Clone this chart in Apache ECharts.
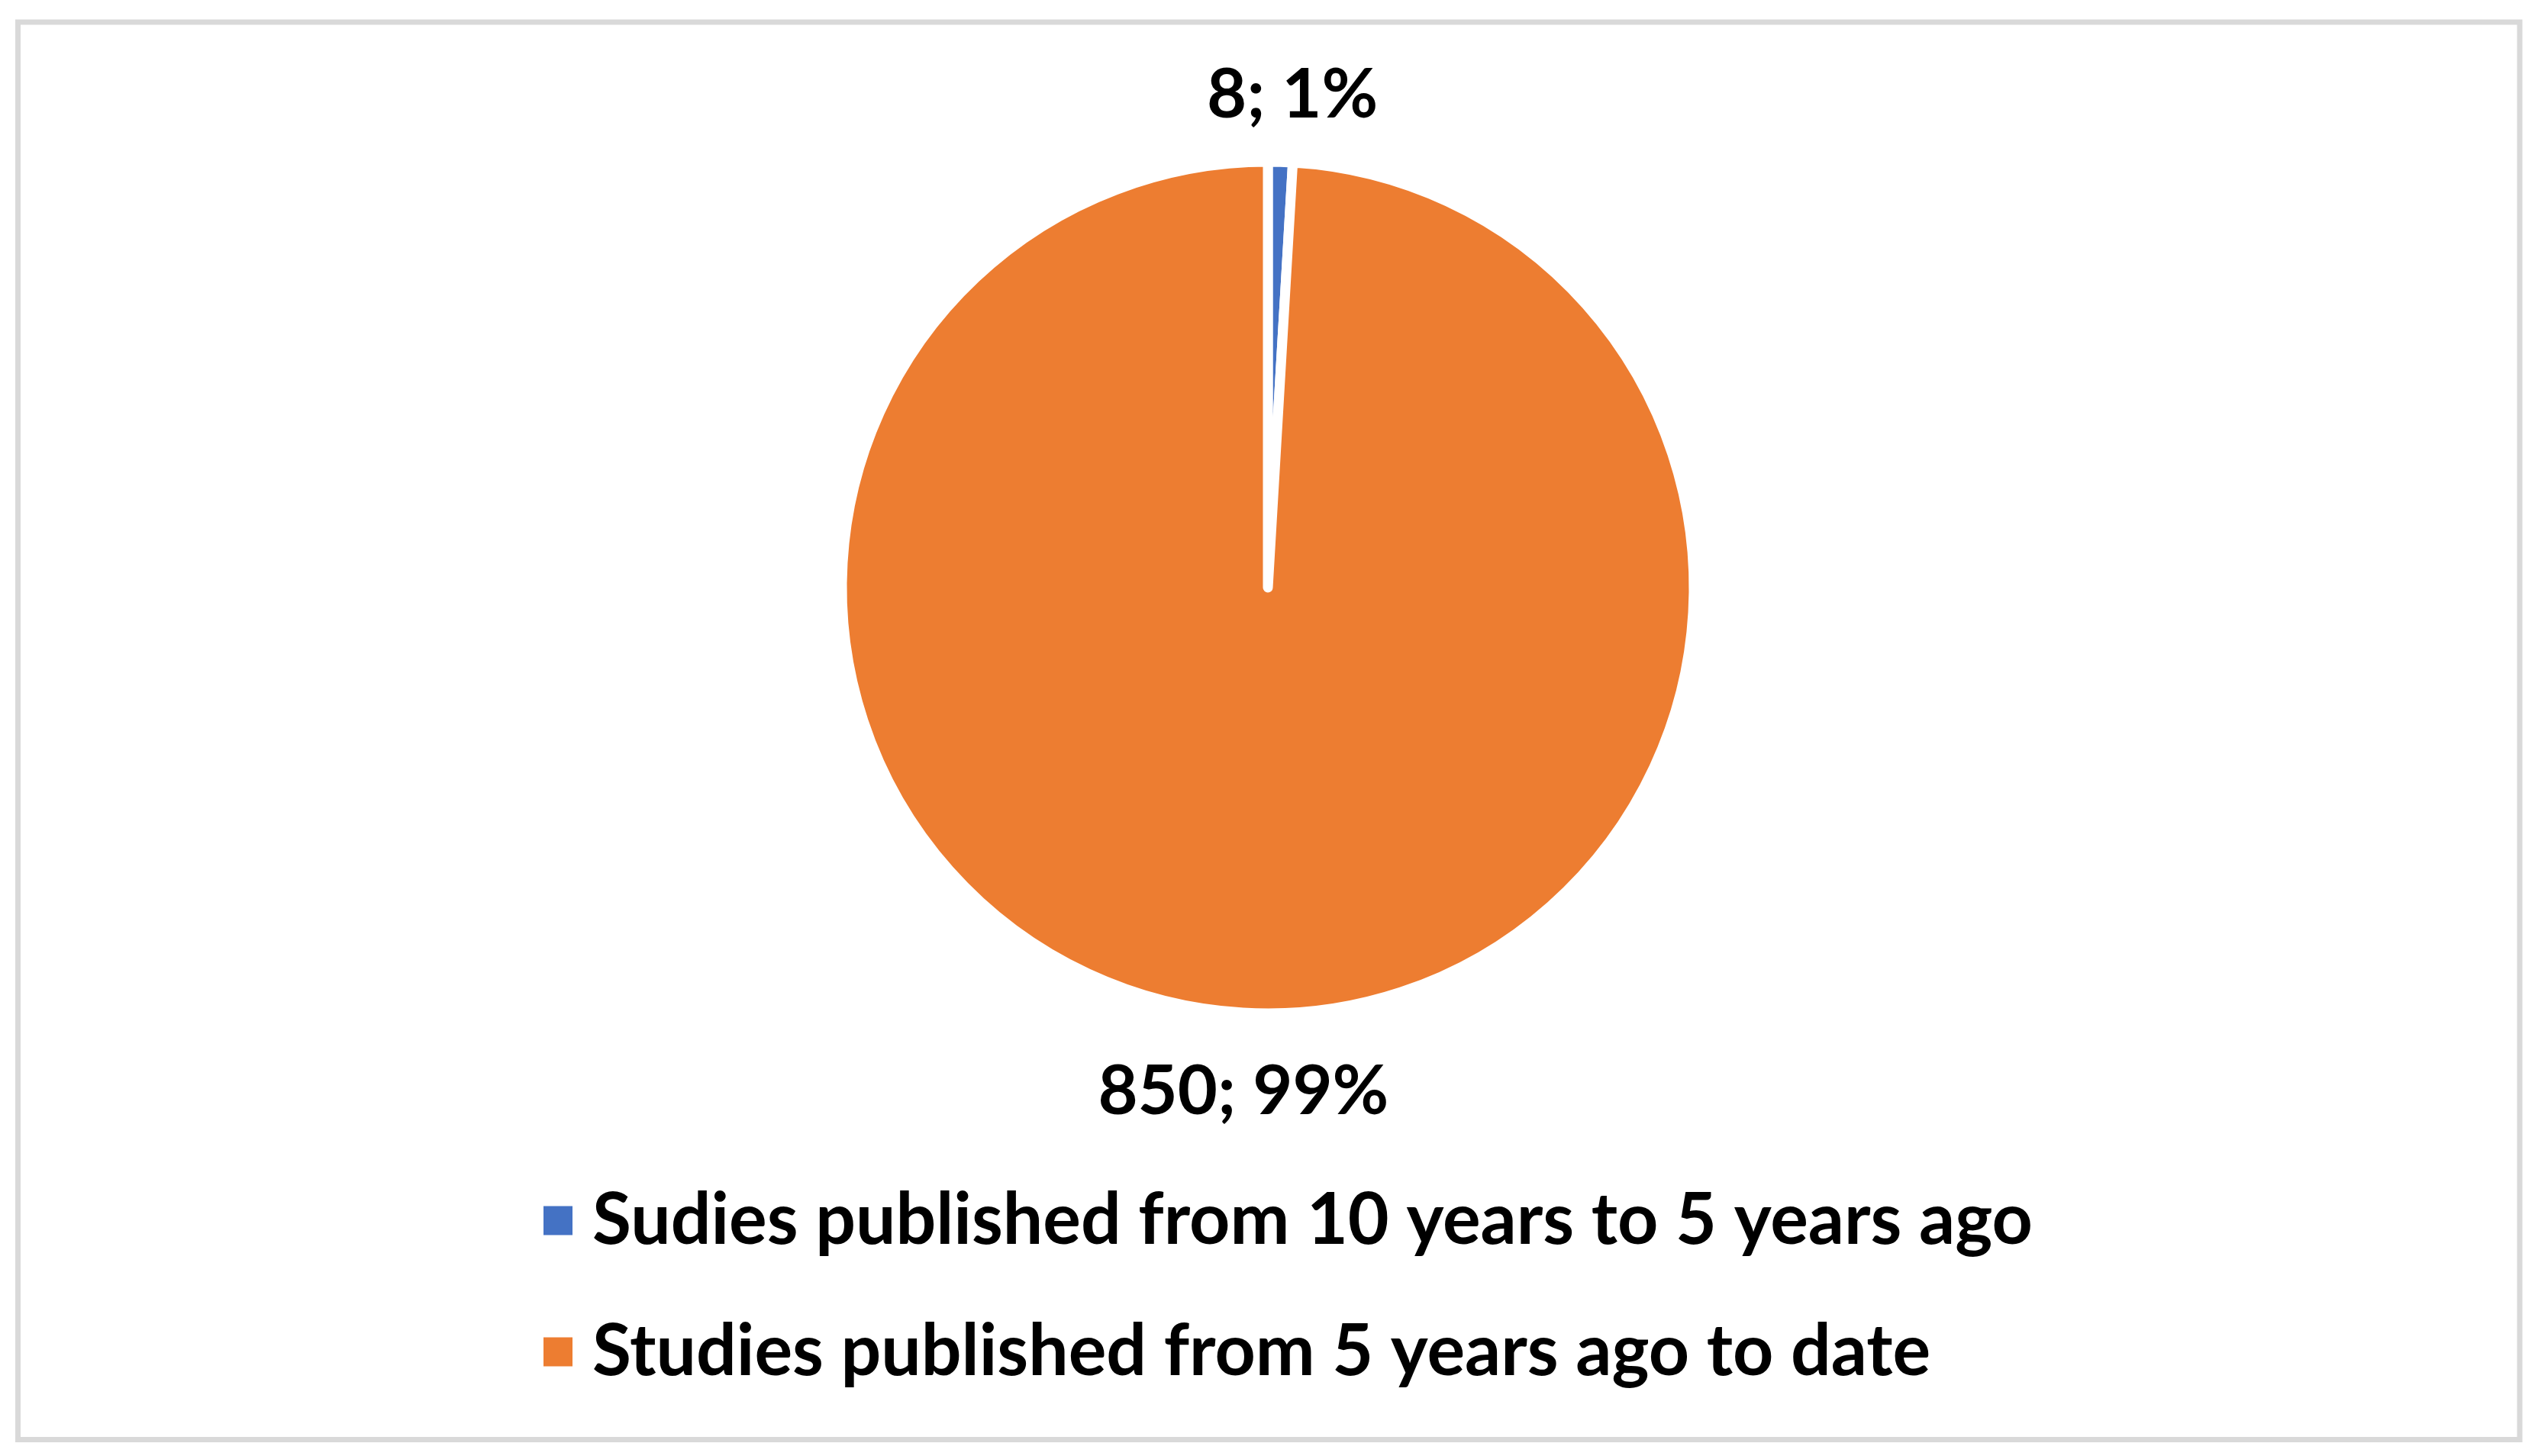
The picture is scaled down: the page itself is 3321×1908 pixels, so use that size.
<!DOCTYPE html>
<html>
<head>
<meta charset="utf-8">
<script src="https://cdn.jsdelivr.net/npm/echarts@6/dist/echarts.min.js"></script>
<style>
  html, body { margin: 0; padding: 0; background: #ffffff; }
  #chart { width: 3321px; height: 1908px; }
</style>
</head>
<body>
<div id="chart"></div>
<script>
const categories = [
  'Sudies published from 10 years to 5 years ago',
  'Studies published from 5 years ago to date'
];
const counts = [8, 850];
const colors = ['#4472C4', '#ED7D31'];

const chart = echarts.init(document.getElementById('chart'), null, { renderer: 'canvas' });

const fontFamily = 'Lato, "Open Sans", sans-serif';

chart.setOption({
  backgroundColor: '#ffffff',
  animation: false,
  graphic: [{
    type: 'rect',
    shape: { x: 23.5, y: 29, width: 3277.5, height: 1857.5 },
    style: { fill: 'none', stroke: '#d9d9d9', lineWidth: 7 },
    silent: true
  }],
  legend: {
    orient: 'vertical',
    left: 705,
    top: 1548,
    icon: 'rect',
    itemWidth: 40,
    itemHeight: 40,
    itemGap: 79,
    textStyle: {
      fontFamily: fontFamily,
      fontWeight: 'bold',
      fontSize: 93,
      lineHeight: 90,
      color: '#000000',
      padding: [0, 0, 0, 20]
    },
    data: categories
  },
  series: [{
    type: 'pie',
    center: [1661, 770],
    radius: 558,
    startAngle: 90,
    clockwise: true,
    percentPrecision: 0,
    itemStyle: { borderColor: '#ffffff', borderWidth: 13 },
    label: {
      show: true,
      position: 'outside',
      formatter: '{c}; {d}%',
      fontFamily: fontFamily,
      fontWeight: 'bold',
      fontSize: 90,
      color: '#000000',
      distanceToLabelLine: 0
    },
    labelLine: { show: false, length: 95, length2: 13 },
    labelLayout: function () {
      return { align: 'center', verticalAlign: 'middle', dy: 8 };
    },
    emphasis: { disabled: true },
    data: categories.map(function (name, i) {
      return { name: name, value: counts[i], itemStyle: { color: colors[i] } };
    })
  }]
});
</script>
</body>
</html>
